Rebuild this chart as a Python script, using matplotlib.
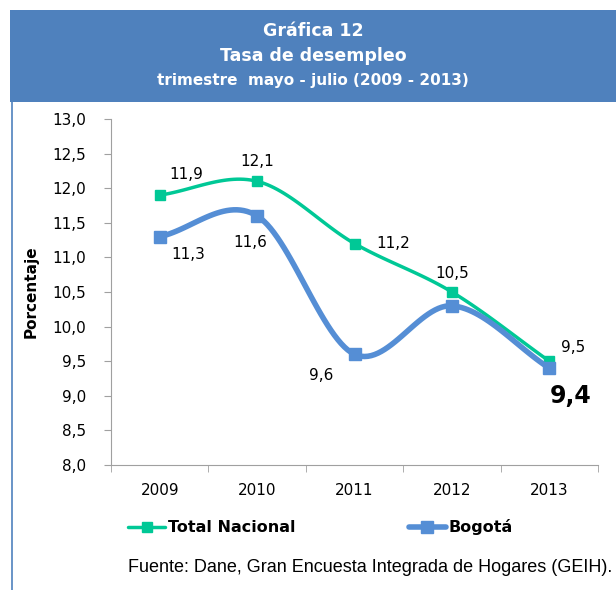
import numpy as np
import matplotlib
matplotlib.use("Agg")
import matplotlib.pyplot as plt
from matplotlib.patches import Rectangle
from matplotlib.lines import Line2D

years = ["2009", "2010", "2011", "2012", "2013"]
total_nacional = [11.9, 12.1, 11.2, 10.5, 9.5]
bogota = [11.3, 11.6, 9.6, 10.3, 9.4]
yticks = [8.0, 8.5, 9.0, 9.5, 10.0, 10.5, 11.0, 11.5, 12.0, 12.5, 13.0]

GREEN = "#00C896"
BLUE = "#558ED5"
BANNER = "#4F81BD"
W, H = 616, 590


def smooth(x, y, n=30):
    # Catmull-Rom style curve through the points (like Excel "smoothed line")
    x = np.asarray(x, float)
    y = np.asarray(y, float)
    px = np.concatenate([[2 * x[0] - x[1]], x, [2 * x[-1] - x[-2]]])
    py = np.concatenate([[2 * y[0] - y[1]], y, [2 * y[-1] - y[-2]]])
    xs, ys = [], []
    t = np.linspace(0, 1, n)
    for i in range(1, len(px) - 2):
        p0, p1, p2, p3 = [np.array([px[j], py[j]]) for j in range(i - 1, i + 3)]
        c1 = p1 + (p2 - p0) / 6
        c2 = p2 - (p3 - p1) / 6
        b = ((1 - t) ** 3)[:, None] * p1 + (3 * (1 - t) ** 2 * t)[:, None] * c1 \
            + (3 * (1 - t) * t ** 2)[:, None] * c2 + (t ** 3)[:, None] * p2
        xs.extend(b[:, 0])
        ys.extend(b[:, 1])
    return np.array(xs), np.array(ys)


def fx(px):
    return px / W


def fy(py):
    return 1 - py / H


fig = plt.figure(figsize=(6.16, 5.9), dpi=100)

# title banner and frame
fig.patches.append(Rectangle((fx(10), fy(102)), fx(606), 92 / H, transform=fig.transFigure,
                             facecolor=BANNER, edgecolor="none"))
fig.add_artist(Line2D([fx(11.5), fx(11.5)], [fy(102), 0], color=BANNER, lw=1.2))
fig.text(fx(313), fy(31), "Gráfica 12", color="white", fontsize=12.5, fontweight="bold",
         ha="center", va="center")
fig.text(fx(313), fy(56), "Tasa de desempleo", color="white", fontsize=12.5, fontweight="bold",
         ha="center", va="center")
fig.text(fx(313), fy(80), "trimestre  mayo - julio (2009 - 2013)", color="white", fontsize=11,
         fontweight="bold", ha="center", va="center")

ax = fig.add_axes([fx(111), fy(465), fx(598) - fx(111), (465 - 119) / H])
x = np.arange(len(years))

sx, sy = smooth(x, total_nacional)
ax.plot(sx, sy, color=GREEN, lw=2.5, solid_capstyle="round", zorder=3)
ax.plot(x, total_nacional, ls="none", marker="s", ms=6.5, color=GREEN, zorder=4)

sx, sy = smooth(x, bogota)
ax.plot(sx, sy, color=BLUE, lw=4, solid_capstyle="round", zorder=5)
ax.plot(x, bogota, ls="none", marker="s", ms=9, color=BLUE, zorder=6)

ax.set_xlim(-0.5, len(years) - 0.5)
ax.set_ylim(8.0, 13.0)
ax.set_yticks(yticks)
ax.set_yticklabels([f"{v:.1f}".replace(".", ",") for v in yticks], fontsize=11)
ax.set_xticks(x)
ax.set_xticklabels(years, fontsize=11)
ax.set_xticks(np.arange(-0.5, len(years)), minor=True)
ax.tick_params(axis="x", which="major", length=0, pad=13)
ax.tick_params(axis="x", which="minor", length=5, color="#A0A0A0")
ax.tick_params(axis="y", length=5, color="#A0A0A0", pad=13)
for s in ["top", "right"]:
    ax.spines[s].set_visible(False)
for s in ["left", "bottom"]:
    ax.spines[s].set_color("#A0A0A0")
ax.set_ylabel("Porcentaje", fontsize=11, fontweight="bold", labelpad=10)


def lab(v):
    return f"{v:.1f}".replace(".", ",")


# data labels (offsets in data units)
tn_off = [(0.27, 0.3), (0.0, 0.28), (0.4, 0.0), (0.0, 0.27), (0.24, 0.2)]
for i, v in enumerate(total_nacional):
    dx, dy = tn_off[i]
    ax.text(x[i] + dx, v + dy, lab(v), fontsize=11, ha="center", va="center")

bo_off = [(0.29, -0.26), (-0.07, -0.38), (-0.34, -0.3), None, (0.22, -0.4)]
for i, v in enumerate(bogota):
    if bo_off[i] is None:
        continue
    dx, dy = bo_off[i]
    big = i == len(bogota) - 1
    ax.text(x[i] + dx, v + dy, lab(v), fontsize=17 if big else 11,
            fontweight="bold" if big else "normal", ha="center", va="center")

# legend
for (x0, name, col, lw, ms) in [(128, "Total Nacional", GREEN, 2.5, 6.5),
                                (409, "Bogotá", BLUE, 4, 9)]:
    fig.add_artist(Line2D([fx(x0), fx(x0 + 37)], [fy(527), fy(527)], color=col, lw=lw,
                          solid_capstyle="round"))
    fig.add_artist(Line2D([fx(x0 + 18.5)], [fy(527)], color=col, marker="s", ms=ms, ls="none"))
    fig.text(fx(x0 + 40), fy(527), name, fontsize=11.5, fontweight="bold", va="center")

fig.text(fx(612), fy(568), "Fuente: Dane, Gran Encuesta Integrada de Hogares (GEIH).",
         fontsize=13, family="Liberation Sans", ha="right", va="center")

fig.savefig("out.png", dpi=100)
